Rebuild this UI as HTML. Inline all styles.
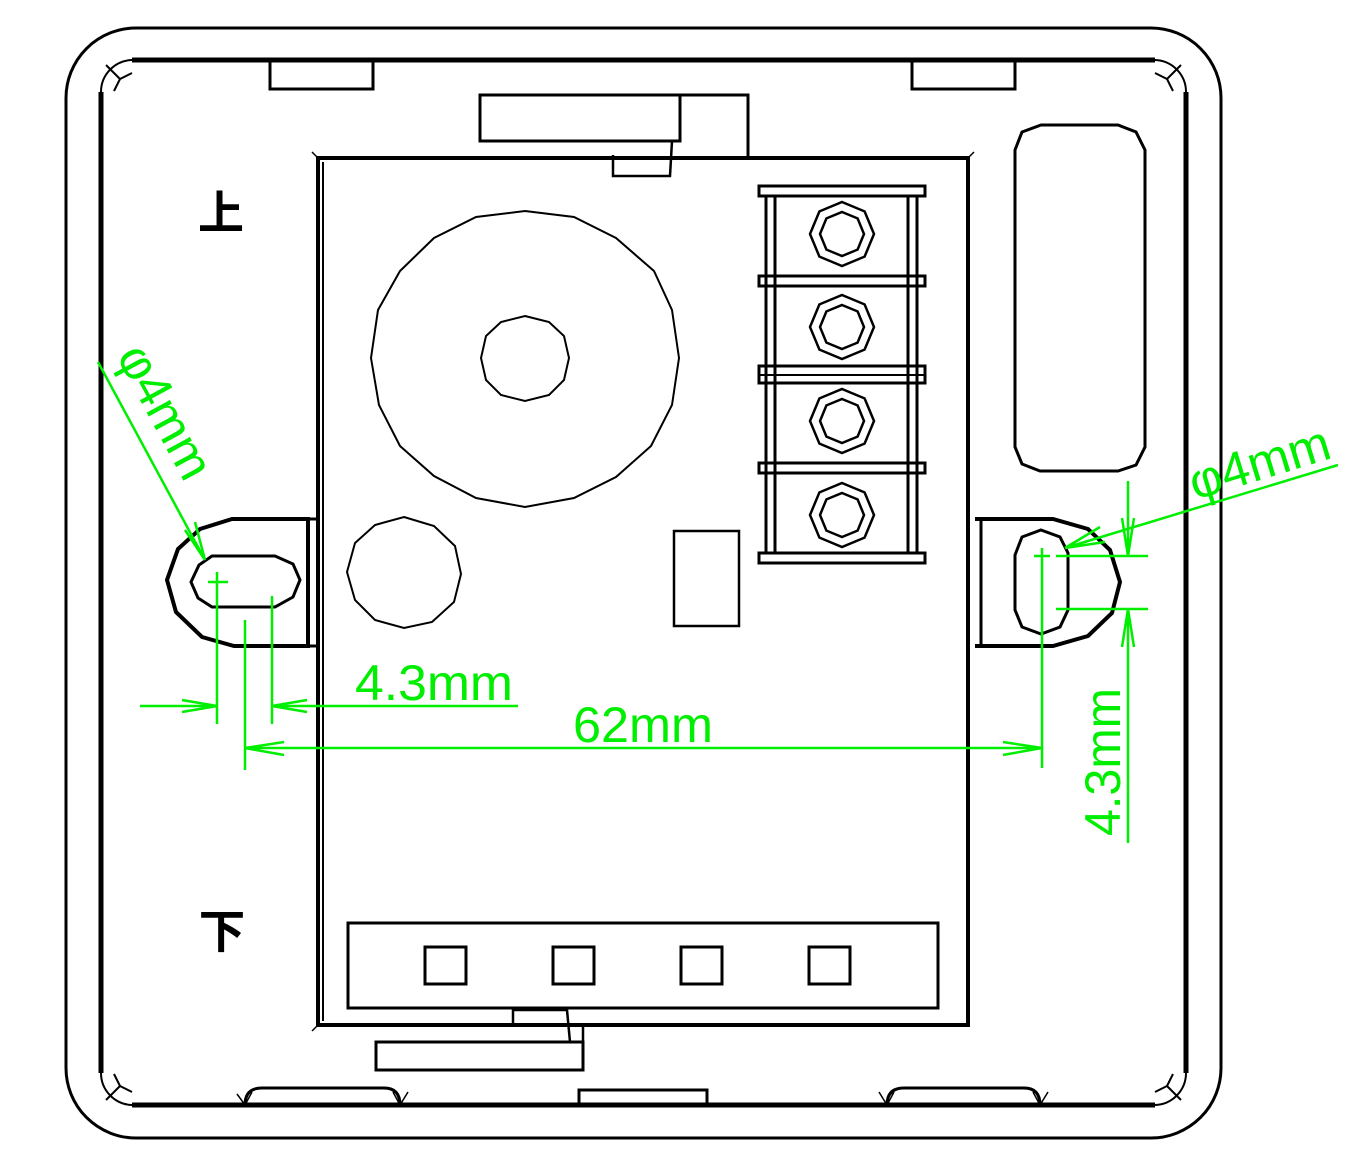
<!DOCTYPE html>
<html><head><meta charset="utf-8"><style>html,body{margin:0;padding:0;background:#fff}svg{display:block}</style></head>
<body>
<svg width="1366" height="1169" viewBox="0 0 1366 1169" xmlns="http://www.w3.org/2000/svg">
<defs>
<g id="nut"><polygon points="0,-32 22.6,-22.6 32,0 22.6,22.6 0,32 -22.6,22.6 -32,0 -22.6,-22.6" fill="none" stroke="#000" stroke-width="2.5"/><polygon points="0,-22 15.6,-15.6 22,0 15.6,15.6 0,22 -15.6,15.6 -22,0 -15.6,-15.6" fill="none" stroke="#000" stroke-width="2.5"/></g>
<g id="cm"><path d="M0,0 L12,-6 M0,0 L-6,12 M0,0 L-14,-14" stroke="#000" stroke-width="2" fill="none"/></g>
</defs>
<g fill="none" stroke="#000">
<rect x="66" y="28" width="1155" height="1110" rx="70" stroke-width="3"/>
<path d="M132,60 H1155 M1186,92 V1073 M1155,1105 H132 M101,1073 V92" stroke-width="5"/>
<path d="M132,60 A32,32 0 0 0 101,92 M1155,60 A32,32 0 0 1 1186,92 M1186,1073 A32,32 0 0 1 1155,1105 M132,1105 A32,32 0 0 1 101,1073" stroke-width="2"/>
<use href="#cm" x="120" y="79"/>
<use href="#cm" x="1167" y="79" transform="translate(2334,0) scale(-1,1)"/>
<use href="#cm" x="120" y="1086" transform="translate(0,2172) scale(1,-1)"/>
<use href="#cm" x="1167" y="1086" transform="translate(2334,2172) scale(-1,-1)"/>
<path d="M270,60 V89 H373 V60 M912,60 V89 H1015 V60" stroke-width="3"/>
<path d="M245,1105 Q245,1088 262,1088 H384 Q400,1088 400,1105 M887,1105 Q887,1088 904,1088 H1024 Q1040,1088 1040,1105" stroke-width="3"/>
<path d="M237,1094 L245,1105 L252,1092 M393,1092 L400,1105 L408,1092 M879,1092 L887,1105 L894,1092 M1033,1092 L1040,1105 L1048,1092" stroke-width="1.5"/>
<path d="M579,1105 V1090 H707 V1105" stroke-width="3"/>
<rect x="480" y="95" width="200" height="46" stroke-width="3"/>
<path d="M680,95 H748 V158" stroke-width="3"/>
<path d="M613,155 V176 H670 L672,141" stroke-width="2.5"/>
<path d="M318,158 H968 V1025 H318 Z" stroke-width="4"/>
<path d="M323,162 V1021" stroke-width="2"/>
<path d="M318,158 L312,152 M318,1025 L312,1031 M968,158 L974,152" stroke-width="1.5"/>
<polygon points="525,211 574,217 616,238 654,271 672,310 679,358 672,405 651,446 616,477 574,498 525,507 476,498 434,476 400,446 379,405 371,358 378,310 400,271 434,238 476,217" stroke-width="2"/>
<polygon points="525,316 549,322 564,336 569,358 564,380 549,395 525,401 501,395 486,380 481,358 486,336 501,322" stroke-width="2"/>
<polygon points="404,517 434,526 455,546 461,574 454,602 432,622 404,628 375,620 355,600 347,572 355,543 375,525" stroke-width="2"/>
<rect x="674" y="531" width="65" height="95" stroke-width="2.5"/>
<g stroke-width="3">
<rect x="759" y="186" width="166" height="10"/>
<rect x="759" y="276" width="166" height="10"/>
<rect x="759" y="366" width="166" height="17"/>
<path d="M759,375 H925" stroke-width="2"/>
<rect x="759" y="463" width="166" height="10"/>
<rect x="759" y="553" width="166" height="10"/>
<path d="M766,196 V553 M775,196 V553 M908,196 V553 M917,196 V553"/>
</g>
<use href="#nut" x="842" y="234"/>
<use href="#nut" x="842" y="327"/>
<use href="#nut" x="842" y="421"/>
<use href="#nut" x="842" y="515"/>
<polygon points="1041,125 1118,125 1136,132 1145,150 1145,447 1136,465 1118,471 1040,471 1022,464 1015,447 1015,150 1022,132" stroke-width="3"/>
<rect x="348" y="923" width="590" height="85" stroke-width="3"/>
<rect x="425" y="947" width="41" height="37" stroke-width="3"/>
<rect x="553" y="947" width="41" height="37" stroke-width="3"/>
<rect x="681" y="947" width="41" height="37" stroke-width="3"/>
<rect x="809" y="947" width="41" height="37" stroke-width="3"/>
<path d="M513,1025 V1010 H567 L570,1042 M583,1025 V1042" stroke-width="2.5"/>
<rect x="376" y="1042" width="207" height="28" stroke-width="3"/>
<path d="M308,519 H232 L200,529 L178,549 L167,580 L176,612 L202,637 L234,646 H308 Z" stroke-width="4"/>
<path d="M308,519 H318 M308,646 H318" stroke-width="3"/>
<polygon points="212,556 275,556 293,564 300,580 293,597 275,607 212,607 198,598 191,582 199,565" stroke-width="3"/>
<path d="M975,519 H1053 L1088,529 L1110,550 L1120,582 L1112,613 L1088,636 L1053,646 H975" stroke-width="4"/>
<path d="M981,521 V645" stroke-width="3"/>
<polygon points="1041,530 1060,537 1068,553 1068,610 1060,627 1041,634 1022,627 1015,610 1015,555 1022,537" stroke-width="3"/>
</g>
<g font-family="Liberation Sans, Noto Sans CJK SC, sans-serif" font-size="44" fill="#000" stroke="#000" stroke-width="2.5">
<text x="199" y="228">上</text>
<text x="200" y="947">下</text>
</g>
<g stroke="#00ee00" stroke-width="2.5" fill="none">
<path d="M217,572 V724 M245,620 V770 M272,596 V724 M208,582 H228"/>
<path d="M140,706 H217 M182,700 L217,706 L182,712 M272,706 H518 M307,700 L272,706 L307,712"/>
<path d="M245,748 H1042 M284,742 L245,748 L284,755 M1003,742 L1042,748 L1003,755"/>
<path d="M1042,562 V768 M1034,556 H1050 M1042,548 V566"/>
<path d="M98,362 L205,560 M185,530 L205,560 M195,522 L205,560"/>
<path d="M1338,465 L1065,548 M1100,527 L1065,548 M1105,542 L1065,548"/>
<path d="M1056,556 H1148 M1056,609 H1148 M1128,481 V556 M1122,518 L1128,556 L1134,518 M1128,609 V843 M1122,647 L1128,609 L1134,647"/>
</g>
<g fill="#00ee00" font-family="Liberation Sans, sans-serif" font-size="50">
<text x="355" y="700" textLength="158" lengthAdjust="spacingAndGlyphs">4.3mm</text>
<text x="573" y="742" textLength="140" lengthAdjust="spacingAndGlyphs">62mm</text>
<text transform="translate(116,356) rotate(61.6)" textLength="145" lengthAdjust="spacingAndGlyphs">φ4mm</text>
<text transform="translate(1195,500) rotate(-17)" textLength="145" lengthAdjust="spacingAndGlyphs">φ4mm</text>
<text transform="translate(1120,836) rotate(-90)" textLength="148" lengthAdjust="spacingAndGlyphs">4.3mm</text>
</g>
</svg>
</body></html>
